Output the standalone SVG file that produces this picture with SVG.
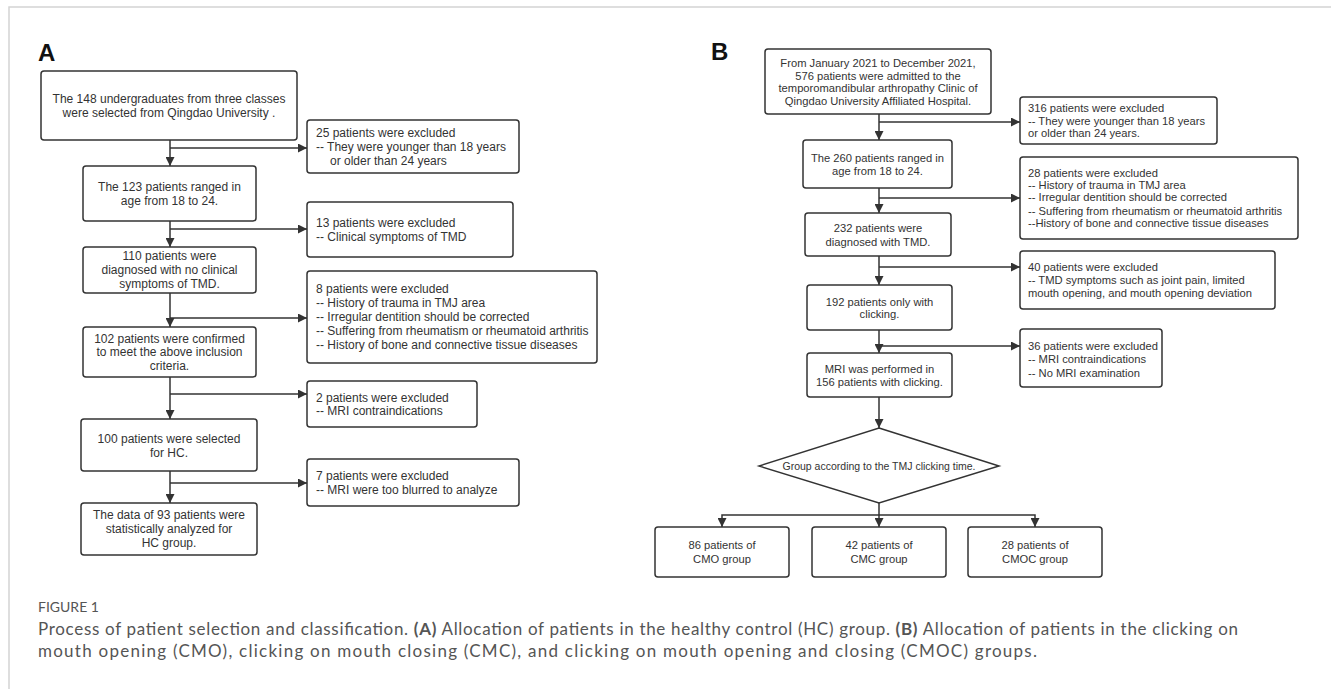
<svg xmlns="http://www.w3.org/2000/svg" width="1331" height="689" viewBox="0 0 1331 689">
<defs>
<marker id="arr" viewBox="0 0 10 10" refX="10" refY="5" markerUnits="userSpaceOnUse" markerWidth="9" markerHeight="9" orient="auto">
<path d="M0,0 L10,5 L0,10 z" fill="#333"/>
</marker>
<style>
.box{fill:#fff;stroke:#333;stroke-width:1.5}
.t{font-family:"Liberation Sans",Arial,sans-serif;font-size:12px;fill:#333}
.tb{font-family:"Liberation Sans",Arial,sans-serif;font-size:11.2px;fill:#333}
.td{font-family:"Liberation Sans",Arial,sans-serif;font-size:10.5px;fill:#333}
.m{text-anchor:middle}
.lbl{font-family:"Liberation Sans",Arial,sans-serif;font-size:24px;font-weight:bold;fill:#111}
.cn{fill:none;stroke:#333;stroke-width:1.5;marker-end:url(#arr)}
.cap{font-family:Lato,"Liberation Sans",sans-serif;fill:#555}
</style>
</defs>
<rect width="1331" height="689" fill="#fff"/>
<path d="M9,689 V7 H1331" fill="none" stroke="#d4d4d4" stroke-width="1.5"/>
<text class="lbl" x="38" y="61">A</text>
<text class="lbl" x="711" y="60">B</text>

<g id="connectors">
<path class="cn" d="M170,140 V166"/>
<path class="cn" d="M170,148 H307"/>
<path class="cn" d="M170,221 V247"/>
<path class="cn" d="M170,229 H307"/>
<path class="cn" d="M170,293 V327"/>
<path class="cn" d="M170,318 H307"/>
<path class="cn" d="M170,377 V419"/>
<path class="cn" d="M170,394 H307"/>
<path class="cn" d="M170,471 V503"/>
<path class="cn" d="M170,483 H307"/>
<path class="cn" d="M879,114 V140"/>
<path class="cn" d="M879,122 H1020"/>
<path class="cn" d="M879,188 V213"/>
<path class="cn" d="M879,198 H1020"/>
<path class="cn" d="M879,256 V285"/>
<path class="cn" d="M879,267 H1020"/>
<path class="cn" d="M879,330 V353"/>
<path class="cn" d="M879,346 H1020"/>
<path class="cn" d="M879,397 V428"/>
<path class="cn" d="M879,503 V527"/>
<path class="cn" d="M879,515 H722 V527"/>
<path class="cn" d="M879,515 H1035 V527"/>
</g>

<g id="a1"><rect class="box" x="41" y="71" width="256" height="69" rx="3"/>
<text class="t m" x="169" y="103">The 148 undergraduates from three classes</text>
<text class="t m" x="169" y="117">were selected from Qingdao University .</text></g>
<g id="a2"><rect class="box" x="83" y="166" width="173" height="55" rx="3"/>
<text class="t m" x="169.5" y="191">The 123 patients ranged in</text>
<text class="t m" x="169.5" y="205">age from 18 to 24.</text></g>
<g id="a3"><rect class="box" x="83" y="247" width="173" height="46" rx="3"/>
<text class="t m" x="169.5" y="260">110 patients were</text>
<text class="t m" x="169.5" y="274">diagnosed with no clinical</text>
<text class="t m" x="169.5" y="288">symptoms of TMD.</text></g>
<g id="a4"><rect class="box" x="83" y="327" width="173" height="50" rx="3"/>
<text class="t m" x="169.5" y="343">102 patients were confirmed</text>
<text class="t m" x="169.5" y="356">to meet the above inclusion</text>
<text class="t m" x="169.5" y="370">criteria.</text></g>
<g id="a5"><rect class="box" x="81" y="419" width="176" height="52" rx="3"/>
<text class="t m" x="169" y="443">100 patients were selected</text>
<text class="t m" x="169" y="457">for HC.</text></g>
<g id="a6"><rect class="box" x="81" y="503" width="176" height="52" rx="3"/>
<text class="t m" x="169" y="519">The data of 93 patients were</text>
<text class="t m" x="169" y="533">statistically analyzed for</text>
<text class="t m" x="169" y="547">HC group.</text></g>

<g id="ax1"><rect class="box" x="307" y="120" width="212" height="53" rx="3"/>
<text class="t" x="316" y="137">25 patients were excluded</text>
<text class="t" x="316" y="151">-- They were younger than 18 years</text>
<text class="t" x="330" y="165">or older than 24 years</text></g>
<g id="ax2"><rect class="box" x="307" y="202" width="206" height="55" rx="3"/>
<text class="t" x="316" y="227">13 patients were excluded</text>
<text class="t" x="316" y="241">-- Clinical symptoms of TMD</text></g>
<g id="ax3"><rect class="box" x="307" y="271" width="290" height="92" rx="3"/>
<text class="t" x="316" y="293">8 patients were excluded</text>
<text class="t" x="316" y="307">-- History of trauma in TMJ area</text>
<text class="t" x="316" y="321">-- Irregular dentition should be corrected</text>
<text class="t" x="316" y="335">-- Suffering from rheumatism or rheumatoid arthritis</text>
<text class="t" x="316" y="349">-- History of bone and connective tissue diseases</text></g>
<g id="ax4"><rect class="box" x="307" y="381" width="170" height="46" rx="3"/>
<text class="t" x="316" y="402">2 patients were excluded</text>
<text class="t" x="316" y="415">-- MRI contraindications</text></g>
<g id="ax5"><rect class="box" x="307" y="459" width="212" height="47" rx="3"/>
<text class="t" x="316" y="480">7 patients were excluded</text>
<text class="t" x="316" y="494">-- MRI were too blurred to analyze</text></g>

<g id="b1"><rect class="box" x="765" y="49" width="226" height="65" rx="3"/>
<text class="tb m" x="878" y="67">From January 2021 to December 2021,</text>
<text class="tb m" x="878" y="80">576 patients were admitted to the</text>
<text class="tb m" x="878" y="92">temporomandibular arthropathy Clinic of</text>
<text class="tb m" x="878" y="105">Qingdao University Affiliated Hospital.</text></g>
<g id="b2"><rect class="box" x="803" y="140" width="149" height="48" rx="3"/>
<text class="tb m" x="877.5" y="162">The 260 patients ranged in</text>
<text class="tb m" x="877.5" y="175">age from 18 to 24.</text></g>
<g id="b3"><rect class="box" x="805" y="213" width="146" height="43" rx="3"/>
<text class="tb m" x="878" y="232">232 patients were</text>
<text class="tb m" x="878" y="246">diagnosed with TMD.</text></g>
<g id="b4"><rect class="box" x="807" y="285" width="145" height="45" rx="3"/>
<text class="tb m" x="879.5" y="306">192 patients only with</text>
<text class="tb m" x="879.5" y="318">clicking.</text></g>
<g id="b5"><rect class="box" x="807" y="353" width="145" height="44" rx="3"/>
<text class="tb m" x="879.5" y="373">MRI was performed in</text>
<text class="tb m" x="879.5" y="386">156 patients with clicking.</text></g>

<g id="bx1"><rect class="box" x="1020" y="97" width="197" height="47" rx="3"/>
<text class="tb" x="1028" y="112">316 patients were excluded</text>
<text class="tb" x="1028" y="125">-- They were younger than 18 years</text>
<text class="tb" x="1028" y="137">or older than 24 years.</text></g>
<g id="bx2"><rect class="box" x="1020" y="157" width="278" height="82" rx="3"/>
<text class="tb" x="1028" y="177">28 patients were excluded</text>
<text class="tb" x="1028" y="189">-- History of trauma in TMJ area</text>
<text class="tb" x="1028" y="201">-- Irregular dentition should be corrected</text>
<text class="tb" x="1028" y="215">-- Suffering from rheumatism or rheumatoid arthritis</text>
<text class="tb" x="1028" y="227">--History of bone and connective tissue diseases</text></g>
<g id="bx3"><rect class="box" x="1020" y="251" width="255" height="58" rx="3"/>
<text class="tb" x="1028" y="271">40 patients were excluded</text>
<text class="tb" x="1028" y="284">-- TMD symptoms such as joint pain, limited</text>
<text class="tb" x="1028" y="297">mouth opening, and mouth opening deviation</text></g>
<g id="bx4"><rect class="box" x="1020" y="329" width="142" height="58" rx="3"/>
<text class="tb" x="1028" y="350">36 patients were excluded</text>
<text class="tb" x="1028" y="363">-- MRI contraindications</text>
<text class="tb" x="1028" y="377">-- No MRI examination</text></g>

<g id="bd"><polygon class="box" points="879,428 999,466 879,503 759,466"/>
<text class="td m" x="879" y="470">Group according to the TMJ clicking time.</text></g>

<g id="g1"><rect class="box" x="655" y="527" width="134" height="50" rx="3"/>
<text class="tb m" x="722" y="549">86 patients of</text>
<text class="tb m" x="722" y="563">CMO group</text></g>
<g id="g2"><rect class="box" x="812" y="527" width="134" height="50" rx="3"/>
<text class="tb m" x="879" y="549">42 patients of</text>
<text class="tb m" x="879" y="563">CMC group</text></g>
<g id="g3"><rect class="box" x="968" y="527" width="134" height="50" rx="3"/>
<text class="tb m" x="1035" y="549">28 patients of</text>
<text class="tb m" x="1035" y="563">CMOC group</text></g>

<g id="caption">
<text class="cap" x="38" y="612" font-size="14">FIGURE 1</text>
<text class="cap" x="38" y="635" font-size="17" textLength="1200" lengthAdjust="spacing">Process of patient selection and classification. <tspan font-weight="bold">(A)</tspan> Allocation of patients in the healthy control (HC) group. <tspan font-weight="bold">(B)</tspan> Allocation of patients in the clicking on</text>
<text class="cap" x="38" y="657" font-size="17" textLength="999" lengthAdjust="spacing">mouth opening (CMO), clicking on mouth closing (CMC), and clicking on mouth opening and closing (CMOC) groups.</text>
</g>
</svg>
